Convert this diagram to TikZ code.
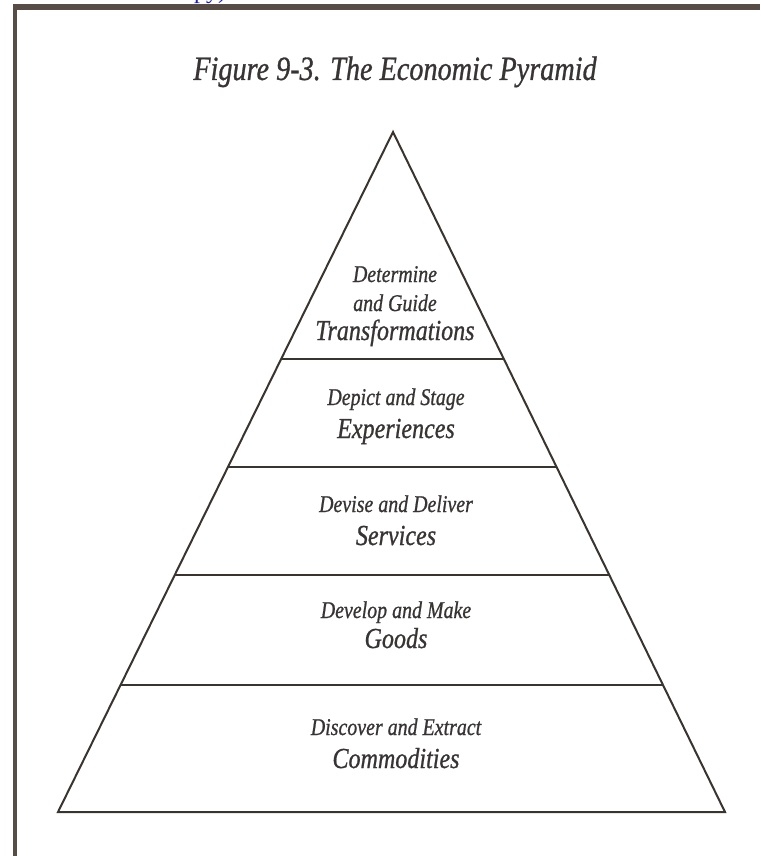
\documentclass[tikz,border=0pt]{standalone}
\usepackage{fontspec}
\setmainfont{Liberation Serif}[ItalicFeatures={FakeBold=0.9}]
\usetikzlibrary{calc}
\definecolor{ink}{HTML}{3A3430}
\definecolor{framecol}{HTML}{574D46}
\definecolor{txt}{HTML}{383434}
\definecolor{linkblue}{HTML}{1F1FA8}
% condensed italic lettering
\newcommand{\narrowtxt}[1]{\scalebox{0.83}[1]{#1}}

\begin{document}
\begin{tikzpicture}[x=1pt,y=-1pt,
  small/.style={font=\fontsize{24}{28}\selectfont\itshape, text=txt, inner sep=0pt, anchor=base},
  big/.style={font=\fontsize{29}{33}\selectfont\itshape, text=txt, inner sep=0pt, anchor=base},
  titletext/.style={font=\fontsize{34}{40}\selectfont\itshape, text=txt, inner sep=0pt, anchor=base},
  side/.style={draw=ink, line width=2pt, line join=miter},
  divider/.style={draw=ink, line width=2.6pt},
  framerule/.style={draw=framecol}]
\useasboundingbox (0,0) rectangle (760,856);
\fill[white] (0,0) rectangle (760,856);

% link text running off the top edge
\node[font=\fontsize{24}{28}\selectfont, text=linkblue, inner sep=0pt, anchor=base] (link) at (210,-1) {py)};

% page frame: top and left rules
\coordinate (ftl) at (15,7);
\coordinate (ftr) at (760,7);
\coordinate (fbl) at (15,856);
\draw[framerule, line width=6pt] (13,7) -- (ftr);
\draw[framerule, line width=4pt] (ftl) -- (fbl);

% title
\node[titletext] (title) at (395,80) {\narrowtxt{Figure 9-3. The Economic Pyramid}};

% pyramid outline
\coordinate (apex) at (393,132);
\coordinate (bl) at (58,812);
\coordinate (br) at (725,812);
\draw[side] (apex) -- (bl) -- (br) -- cycle;

% level dividers
\foreach \t/\n in {0.3338/a, 0.4926/b, 0.6515/c, 0.8132/d}{
  \coordinate (l\n) at ($(apex)!\t!(bl)$);
  \coordinate (r\n) at ($(apex)!\t!(br)$);
  \draw[divider] (l\n) -- (r\n);
}

% level labels
\node[small] (t1) at (395,282) {\narrowtxt{Determine}};
\node[small] (t2) at (395,311) {\narrowtxt{and Guide}};
\node[big]   (t3) at (395,340) {\narrowtxt{Transformations}};

\node[small] (e1) at (396,405) {\narrowtxt{Depict and Stage}};
\node[big]   (e2) at (396,438) {\narrowtxt{Experiences}};

\node[small] (s1) at (396,512) {\narrowtxt{Devise and Deliver}};
\node[big]   (s2) at (396,545) {\narrowtxt{Services}};

\node[small] (g1) at (396,618) {\narrowtxt{Develop and Make}};
\node[big]   (g2) at (396,648) {\narrowtxt{Goods}};

\node[small] (c1) at (396,735) {\narrowtxt{Discover and Extract}};
\node[big]   (c2) at (396,768) {\narrowtxt{Commodities}};
\end{tikzpicture}
\end{document}
